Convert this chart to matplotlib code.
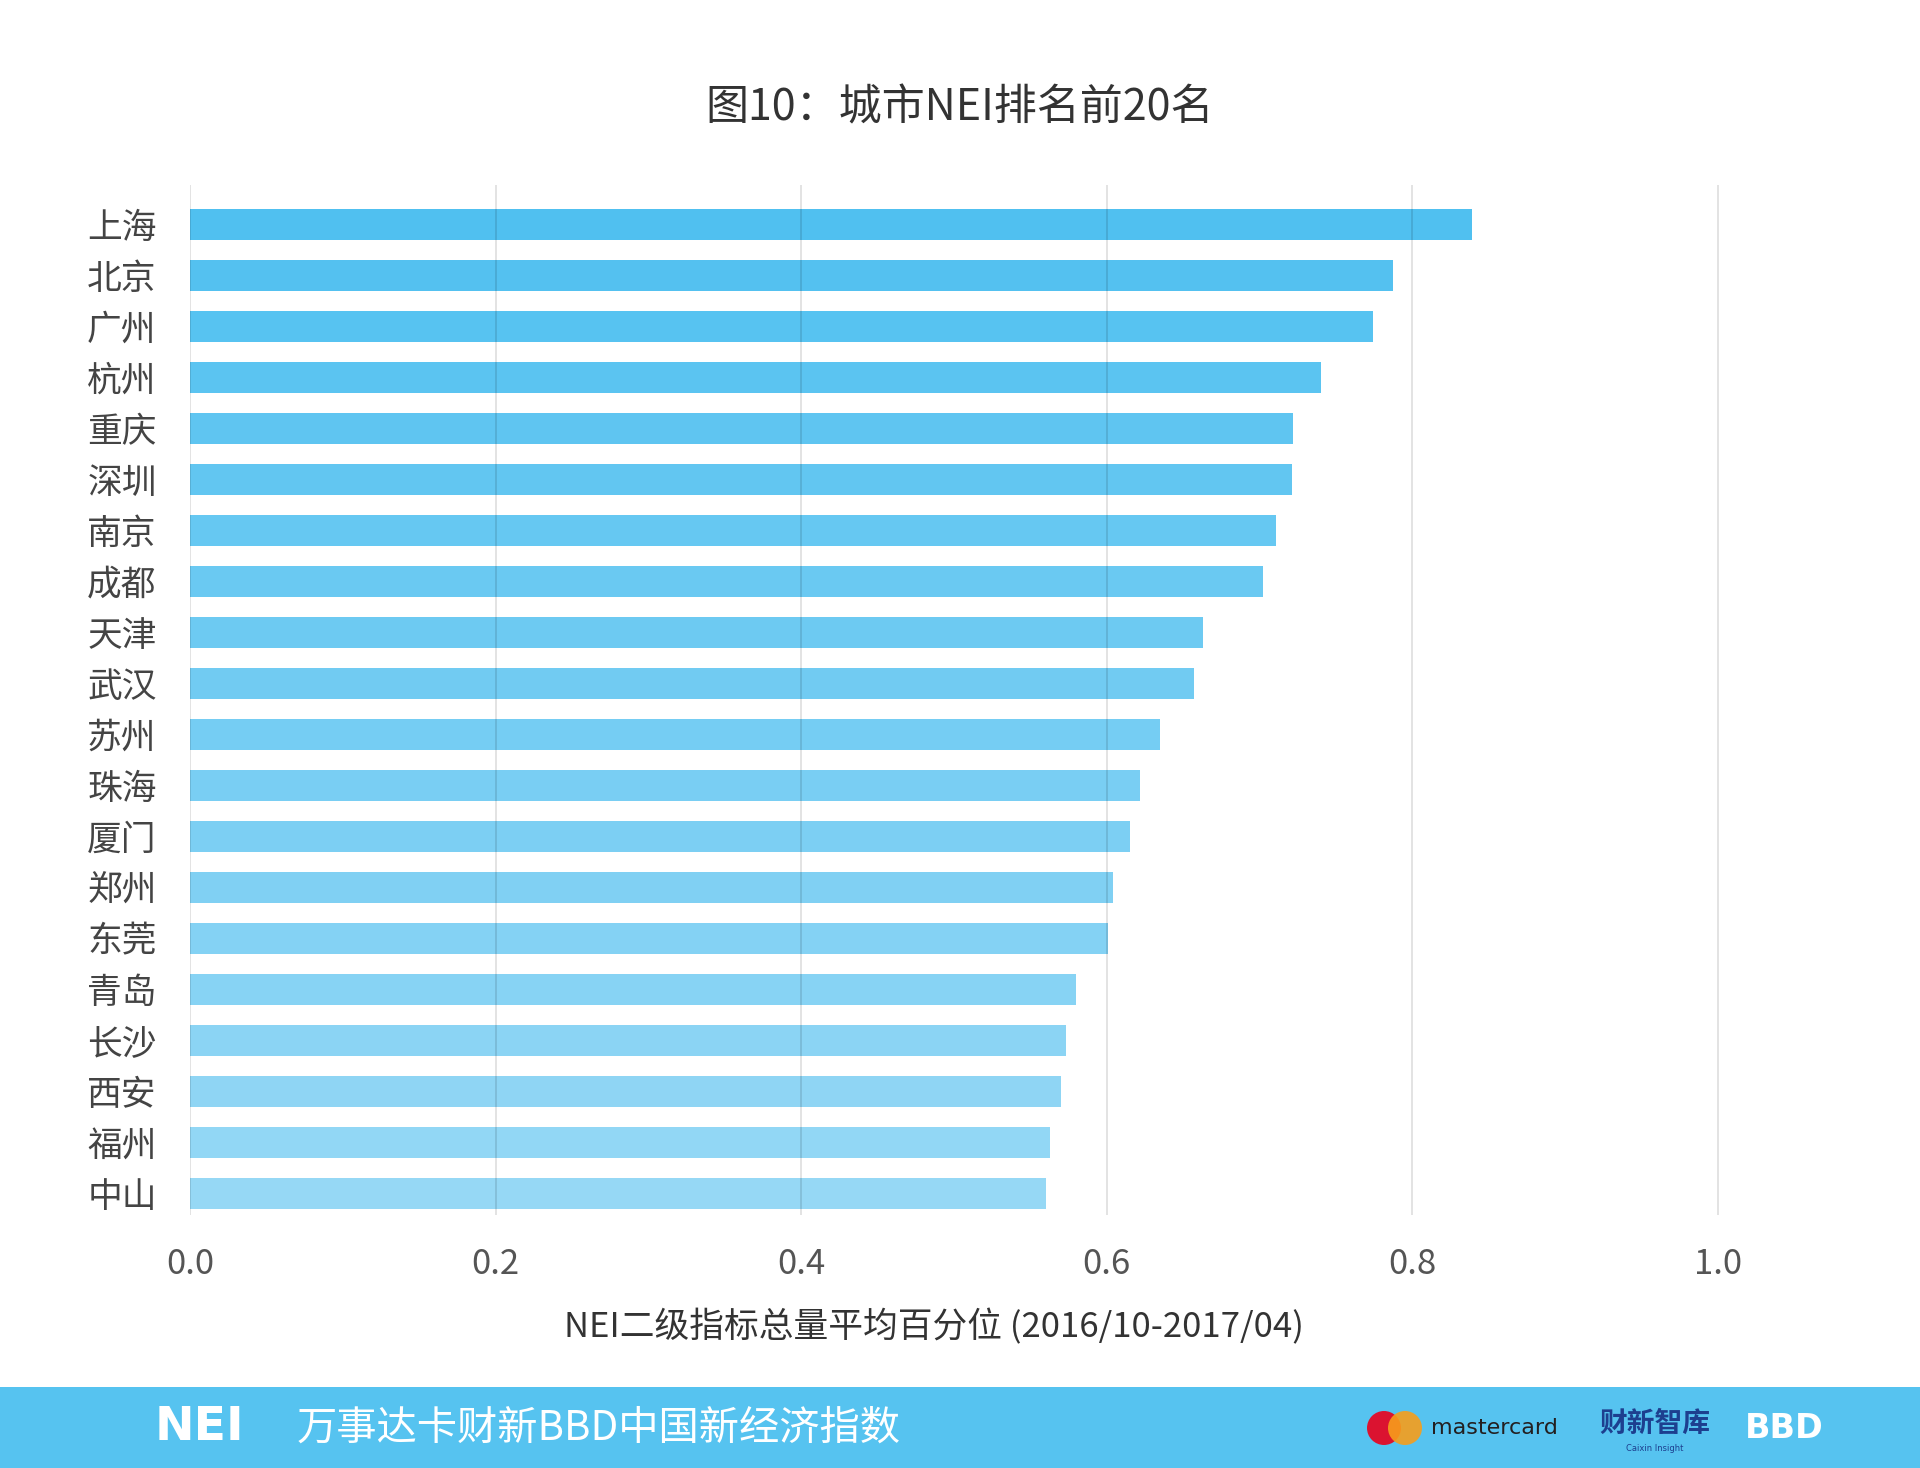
import numpy as np
import matplotlib
matplotlib.use("Agg")
import matplotlib.pyplot as plt
from matplotlib.patches import Rectangle, Ellipse

plt.rcParams['font.family'] = ['Noto Sans CJK SC', 'DejaVu Sans']

# data
cities = ["上海", "北京", "广州", "杭州", "重庆", "深圳", "南京", "成都", "天津", "武汉",
          "苏州", "珠海", "厦门", "郑州", "东莞", "青岛", "长沙", "西安", "福州", "中山"]
scores = [0.839, 0.787, 0.774, 0.740, 0.722, 0.721, 0.711, 0.702, 0.663, 0.657,
          0.635, 0.622, 0.615, 0.604, 0.601, 0.580, 0.573, 0.570, 0.563, 0.560]
xticks = [0.0, 0.2, 0.4, 0.6, 0.8, 1.0]

title = "图10：城市NEI排名前20名"
xlabel = "NEI二级指标总量平均百分位 (2016/10-2017/04)"
footer = "万事达卡财新BBD中国新经济指数"

W, H = 1920, 1468
fig = plt.figure(figsize=(W / 100, H / 100), dpi=100)
fig.patch.set_facecolor("white")

# axes placed to match the reference
ax_left, ax_bottom = 190 / W, 1 - 1215 / H
ax_w = (1718 - 190) / W * 1.05
ax_h = (1215 - 185) / H
ax = fig.add_axes([ax_left, ax_bottom, ax_w, ax_h])

top_c = np.array([80, 192, 240]) / 255
bot_c = np.array([150, 216, 245]) / 255
t = np.linspace(0, 1, len(cities))
colors = [tuple(top_c * (1 - k) + bot_c * k) for k in t]

y = np.arange(len(cities))
ax.barh(y, scores, height=0.61, color=colors, zorder=1)

ax.set_xlim(0, 1.05)
ax.set_ylim(19.43, -0.77)
ax.set_xticks(xticks)
ax.set_xticklabels([f"{v:.1f}" for v in xticks], fontsize=25, color="#555555",
                   fontweight="light")
ax.set_yticks(y)
ax.set_yticklabels(cities, fontsize=25, color="#444444", fontweight="light")
ax.tick_params(axis="both", length=0)
ax.tick_params(axis="x", pad=23)
ax.tick_params(axis="y", pad=24)
for s in ax.spines.values():
    s.set_visible(False)
ax.set_axisbelow(False)
ax.grid(axis="x", color="black", alpha=0.12, linewidth=1.3, zorder=3)
ax.grid(axis="y", visible=False)

fig.text(960 / W, 1 - 108 / H, title, ha="center", va="center", fontsize=31,
         color="#333333", fontweight="light")
fig.text(934 / W, 1 - 1327 / H, xlabel, ha="center", va="center", fontsize=25,
         color="#333333", fontweight="light")

# footer band
fy0 = 1 - 1468 / H
fh = (1468 - 1387) / H
fig.add_artist(Rectangle((0, fy0), 1, fh, transform=fig.transFigure,
                         facecolor="#56C3F0", edgecolor="none"))
fmid = 1 - 1428 / H
fig.text(155 / W, fmid, "NEI", ha="left", va="center", fontsize=34,
         color="white", fontweight="bold", family="DejaVu Sans")
fig.text(297 / W, fmid, footer, ha="left", va="center", fontsize=29,
         color="white", fontweight="light")

r = 17
for cx, c in [(1384, "#EB001B"), (1405, "#F79E1B")]:
    fig.add_artist(Ellipse((cx / W, fmid), 2 * r / W, 2 * r / H,
                           transform=fig.transFigure, facecolor=c,
                           edgecolor="none", alpha=0.9))
fig.text(1431 / W, fmid, "mastercard", ha="left", va="center", fontsize=16,
         color="#231F20", family="DejaVu Sans")
fig.text(1655 / W, fmid + 0.003, "财新智库", ha="center", va="center", fontsize=20,
         color="#1D3F8F", fontweight="bold")
fig.text(1655 / W, fmid - 0.014, "Caixin Insight", ha="center", va="center",
         fontsize=6, color="#1D3F8F", family="DejaVu Sans")
fig.text(1784 / W, fmid, "BBD", ha="center", va="center", fontsize=24,
         color="white", fontweight="bold", family="DejaVu Sans")

fig.savefig("out.png", dpi=100)
